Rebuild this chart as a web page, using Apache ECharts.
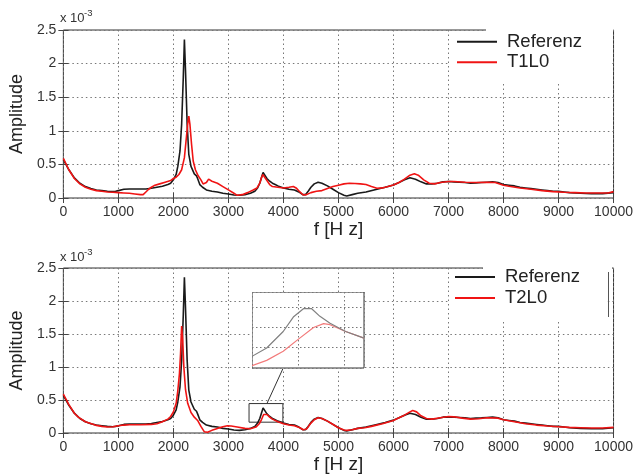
<!DOCTYPE html>
<html>
<head>
<meta charset="utf-8">
<script src="https://cdn.jsdelivr.net/npm/echarts@6/dist/echarts.min.js"></script>
<style>
html,body{margin:0;padding:0;background:#fff}
#wrap{position:relative;width:636px;height:475px}
#c{width:636px;height:475px}
#inset{position:absolute;left:252px;top:292px;width:113px;height:77px;background:#fff}
</style>
</head>
<body>
<div id="wrap"><div id="c"></div><div id="inset"></div></div>
<script>
// Amplitudes in units of 1e-3
const refF = [0,100,200,300,400,500,600,700,800,900,950,1000,1100,1200,1300,1400,1500,1600,1700,1800,1900,1950,2000,2050,2080,2120,2150,2180,2200,2220,2250,2280,2320,2380,2420,2440,2480,2530,2600,2700,2800,2900,3000,3100,3200,3300,3400,3480,3530,3570,3600,3630,3660,3700,3750,3800,3850,3900,4000,4100,4200,4280,4350,4400,4450,4500,4560,4630,4700,4800,4900,5000,5100,5150,5250,5350,5500,5700,5850,6000,6100,6200,6300,6400,6500,6600,6700,6800,6900,7000,7100,7200,7300,7400,7500,7600,7700,7800,7900,8000,8100,8200,8300,8400,8500,8600,8700,8800,8900,9000,9100,9200,9400,9600,9800,10000];
const refA = [0.57,0.42,0.30,0.22,0.17,0.14,0.12,0.11,0.10,0.095,0.10,0.11,0.13,0.135,0.135,0.135,0.135,0.145,0.16,0.175,0.20,0.22,0.27,0.35,0.47,0.70,1.10,1.80,2.36,1.90,1.10,0.65,0.47,0.36,0.33,0.29,0.20,0.16,0.12,0.10,0.09,0.07,0.06,0.045,0.04,0.05,0.07,0.10,0.15,0.22,0.30,0.38,0.36,0.29,0.25,0.22,0.20,0.18,0.15,0.13,0.12,0.09,0.05,0.05,0.10,0.16,0.21,0.235,0.22,0.18,0.13,0.08,0.04,0.03,0.05,0.07,0.09,0.13,0.16,0.195,0.23,0.27,0.30,0.28,0.24,0.21,0.21,0.22,0.24,0.245,0.24,0.235,0.23,0.22,0.225,0.23,0.235,0.24,0.23,0.20,0.19,0.18,0.16,0.15,0.14,0.13,0.12,0.11,0.10,0.10,0.09,0.08,0.07,0.065,0.065,0.08];

const t1F = [0,100,200,300,400,500,600,700,800,900,1000,1100,1200,1300,1400,1450,1500,1550,1600,1650,1750,1850,1950,2000,2050,2100,2150,2200,2230,2260,2280,2300,2330,2360,2400,2450,2500,2540,2570,2600,2640,2700,2800,2900,3000,3100,3160,3250,3350,3450,3520,3570,3600,3625,3650,3700,3750,3800,3900,4000,4100,4180,4230,4300,4360,4420,4500,4600,4700,4800,4900,5000,5100,5200,5300,5400,5500,5600,5700,5800,5900,6000,6100,6200,6300,6380,6450,6550,6650,6750,6850,7000,7100,7300,7500,7700,7850,8000,8100,8300,8500,8700,8900,9100,9300,9500,9700,9900,10000];
const t1A = [0.59,0.42,0.29,0.21,0.16,0.13,0.11,0.10,0.09,0.085,0.08,0.075,0.07,0.06,0.05,0.05,0.09,0.13,0.16,0.185,0.21,0.235,0.26,0.29,0.31,0.35,0.42,0.60,0.85,1.10,1.22,1.10,0.80,0.55,0.42,0.33,0.27,0.21,0.19,0.23,0.28,0.25,0.22,0.17,0.12,0.07,0.04,0.05,0.08,0.12,0.15,0.22,0.30,0.35,0.33,0.26,0.20,0.17,0.16,0.15,0.16,0.17,0.15,0.09,0.045,0.05,0.08,0.10,0.11,0.14,0.17,0.19,0.21,0.22,0.215,0.21,0.20,0.17,0.145,0.15,0.17,0.195,0.23,0.28,0.34,0.36,0.34,0.27,0.22,0.21,0.23,0.245,0.245,0.235,0.23,0.235,0.23,0.19,0.175,0.15,0.13,0.11,0.095,0.085,0.08,0.075,0.075,0.075,0.095];

const t2F = [0,100,200,271,400,511,600,700,800,900,1000,1100,1200,1400,1600,1700,1800,1900,1950,2000,2050,2080,2110,2130,2150,2170,2190,2220,2260,2320,2380,2440,2500,2560,2620,2700,2800,2900,2980,3050,3160,3300,3400,3500,3560,3600,3640,3660,3700,3750,3800,3900,4000,4100,4200,4300,4360,4420,4500,4560,4630,4700,4800,4880,5000,5100,5150,5250,5350,5475,5600,5800,6000,6100,6200,6300,6350,6420,6500,6600,6700,6850,7000,7100,7250,7400,7550,7700,7900,8000,8200,8400,8600,8800,9000,9200,9400,9600,9800,10000];
const t2A = [0.59,0.43,0.30,0.24,0.17,0.14,0.115,0.10,0.09,0.095,0.11,0.12,0.125,0.125,0.13,0.14,0.17,0.21,0.25,0.32,0.45,0.64,0.90,1.20,1.62,1.40,1.00,0.66,0.45,0.31,0.24,0.19,0.10,0.02,0.01,0.04,0.07,0.095,0.11,0.105,0.09,0.07,0.065,0.09,0.14,0.20,0.28,0.31,0.28,0.24,0.21,0.17,0.14,0.12,0.11,0.08,0.05,0.06,0.15,0.20,0.23,0.22,0.18,0.14,0.08,0.045,0.04,0.05,0.07,0.08,0.10,0.14,0.19,0.23,0.27,0.32,0.34,0.32,0.26,0.22,0.21,0.23,0.25,0.245,0.225,0.21,0.215,0.23,0.225,0.20,0.17,0.14,0.12,0.105,0.095,0.085,0.08,0.075,0.075,0.085];

// zoomed inset (bottom chart)
const insetRefF = [3566,3582,3600,3611,3622,3631,3640,3651,3668,3688];
const insetRefA = [0.194,0.227,0.292,0.349,0.382,0.382,0.352,0.325,0.292,0.266];
const insetT2F = [3566,3582,3600,3618,3633,3644,3651,3668,3688];
const insetT2A = [0.157,0.178,0.214,0.266,0.308,0.323,0.319,0.292,0.266];
const insetRangeF = [3566,3688];
const insetRangeA = [0.148,0.448];
const zoomBox = [[3375,0.164],[3990,0.446]];
const zoomLink = [[3700,0.446],[4010,1.01]];

const FONT = '"Liberation Sans", Arial, sans-serif';
const BLACK = '#1a1a1a', RED = '#f01414';
const split = {show:true, lineStyle:{color:'#777', type:[1.5,3], width:1}};

function xAx(gi, pos, labels, gap){
  return {type:'value', gridIndex:gi, position:pos, min:0, max:10000, interval:1000,
    axisLine:{show:false}, axisTick:{show:true, inside:true, length:5, lineStyle:{color:'#444'}},
    axisLabel:{show:labels, color:'#333', fontSize:14, fontFamily:FONT, margin:7, formatter:v=>String(v)},
    splitLine: labels ? split : {show:false},
    name: labels ? 'f [H z]' : '', nameLocation:'middle', nameGap:gap||0,
    nameTextStyle:{fontSize:19, color:'#222', fontFamily:FONT}};
}
function yAx(gi, pos, labels){
  return {type:'value', gridIndex:gi, position:pos, min:0, max:2.5, interval:0.5,
    axisLine:{show:false}, axisTick:{show:true, inside:true, length:5, lineStyle:{color:'#444'}},
    axisLabel:{show:labels, color:'#333', fontSize:14, fontFamily:FONT, margin:7, formatter:v=>String(v)},
    splitLine: labels ? split : {show:false},
    name: labels ? 'Amplitude' : '', nameLocation:'middle', nameGap:25, nameRotate:90,
    nameTextStyle:{fontSize:18, color:'#222', fontFamily:FONT}};
}

const option = {
  animation:false,
  backgroundColor:'#fff',
  grid:[
    {left:60, top:30, width:554, height:168, show:true, borderColor:'#333', borderWidth:1, backgroundColor:'transparent'},
    {left:60, top:268, width:554, height:168, show:true, borderColor:'#333', borderWidth:1, backgroundColor:'transparent'}
  ],
  xAxis:[
    xAx(0,'bottom',true,16), xAx(0,'top',false),
    xAx(1,'bottom',true,22), xAx(1,'top',false)
  ],
  yAxis:[
    yAx(0,'left',true), yAx(0,'right',false),
    yAx(1,'left',true), yAx(1,'right',false)
  ],
  legend:[
    {show:true, left:457, top:31.5, orient:'vertical', itemWidth:40, itemHeight:2, itemGap:0, icon:'rect',
      data:['Referenz','T1L0'], z:30, selectedMode:false,
      textStyle:{fontSize:18.5, lineHeight:20.5, color:'#222', fontFamily:FONT, padding:[0,0,0,5]}, padding:0},
    {show:true, left:455, top:266.5, orient:'vertical', itemWidth:40, itemHeight:2, itemGap:0, icon:'rect',
      data:['Referenz','T2L0'], z:30, selectedMode:false,
      textStyle:{fontSize:18.5, lineHeight:21, color:'#222', fontFamily:FONT, padding:[0,0,0,5]}, padding:0}
  ],
  graphic:[
    {type:'rect', shape:{x:449, y:31, width:162, height:52}, style:{fill:'#fff'}, z:15},
    {type:'rect', shape:{x:486, y:26, width:127, height:6}, style:{fill:'#fff'}, z:15},
    {type:'rect', shape:{x:449, y:269, width:157, height:51}, style:{fill:'#fff'}, z:15},
    {type:'rect', shape:{x:483, y:264, width:129, height:6}, style:{fill:'#fff'}, z:15},
    {type:'line', shape:{x1:608.5, y1:272, x2:608.5, y2:317}, style:{stroke:'#555', lineWidth:1}, z:16},
    {type:'text', left:60, top:12, style:{text:'x 10', font:'13px '+FONT, fill:'#333'}, z:16},
    {type:'text', left:84, top:8, style:{text:'-3', font:'9.5px '+FONT, fill:'#333'}, z:16},
    {type:'text', left:60, top:251, style:{text:'x 10', font:'13px '+FONT, fill:'#333'}, z:16},
    {type:'text', left:84, top:247, style:{text:'-3', font:'9.5px '+FONT, fill:'#333'}, z:16}
  ],
  series:[
    {name:'Referenz', type:'line', xAxisIndex:0, yAxisIndex:0, data:refF.map((v,i)=>[v,refA[i]]), showSymbol:false,
      lineStyle:{color:BLACK, width:1.6}, itemStyle:{color:BLACK}, z:3},
    {name:'T1L0', type:'line', xAxisIndex:0, yAxisIndex:0, data:t1F.map((v,i)=>[v,t1A[i]]), showSymbol:false,
      lineStyle:{color:RED, width:1.6}, itemStyle:{color:RED}, z:4},
    {name:'Referenz', type:'line', xAxisIndex:2, yAxisIndex:2, data:refF.map((v,i)=>[v,refA[i]]), showSymbol:false,
      lineStyle:{color:BLACK, width:1.6}, itemStyle:{color:BLACK}, z:3,
      markArea:{silent:true, itemStyle:{color:'rgba(0,0,0,0)', borderColor:'#333', borderWidth:1},
        data:[[{coord:zoomBox[0]},{coord:zoomBox[1]}]]},
      markLine:{silent:true, symbol:['none','none'], label:{show:false}, lineStyle:{color:'#333', type:'solid', width:1},
        data:[[{coord:zoomLink[0]},{coord:zoomLink[1]}]]}},
    {name:'T2L0', type:'line', xAxisIndex:2, yAxisIndex:2, data:t2F.map((v,i)=>[v,t2A[i]]), showSymbol:false,
      lineStyle:{color:RED, width:1.6}, itemStyle:{color:RED}, z:4}
  ]
};
const chart = echarts.init(document.getElementById('c'), null, {renderer:'canvas'});
chart.setOption(option);

// inset chart (zoomed view around the 3.6 kHz peak)
const insetSplit = {show:true, lineStyle:{color:'#777', type:[1.5,2.5], width:1}};
const insetOption = {
  animation:false,
  backgroundColor:'#fff',
  grid:{left:0, top:0, right:1, bottom:1, show:true, borderColor:'#333', borderWidth:1},
  xAxis:{type:'value', min:insetRangeF[0], max:insetRangeF[1], interval:50,
    axisLine:{show:false}, axisTick:{show:false}, axisLabel:{show:false}, splitLine:insetSplit},
  yAxis:{type:'value', min:insetRangeA[0], max:insetRangeA[1], interval:0.08,
    axisLine:{show:false}, axisTick:{show:false}, axisLabel:{show:false}, splitLine:insetSplit},
  series:[
    {type:'line', data:insetT2F.map((v,i)=>[v,insetT2A[i]]), showSymbol:false, lineStyle:{color:'#f27a7a', width:1.2}},
    {type:'line', data:insetRefF.map((v,i)=>[v,insetRefA[i]]), showSymbol:false, lineStyle:{color:'#808080', width:1.2}}
  ]
};
const chart2 = echarts.init(document.getElementById('inset'), null, {renderer:'canvas'});
chart2.setOption(insetOption);
</script>
</body>
</html>
